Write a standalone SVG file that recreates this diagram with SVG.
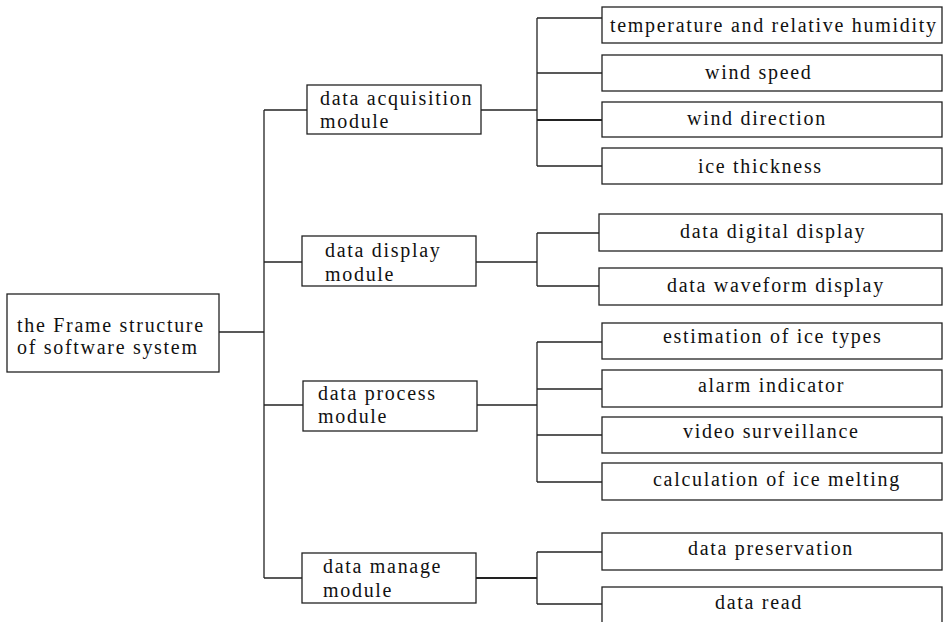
<svg xmlns="http://www.w3.org/2000/svg" width="943" height="622" viewBox="0 0 943 622">
<style>
rect{fill:#fff;stroke:#222;stroke-width:1.3}
text{font-family:"Liberation Serif","Times New Roman",serif;font-size:20px;letter-spacing:1.7px;fill:#111}
#connectors line{stroke:#222;stroke-width:1.3}
</style>
<rect x="0" y="0" width="943" height="622" style="stroke:none"/>
<g id="connectors">
<line x1="219" y1="332" x2="264" y2="332"/>
<line x1="264" y1="110" x2="264" y2="578"/>
<line x1="264" y1="110" x2="307" y2="110"/>
<line x1="264" y1="262" x2="302" y2="262"/>
<line x1="264" y1="405" x2="303" y2="405"/>
<line x1="264" y1="578" x2="302" y2="578"/>
<line x1="481" y1="110" x2="537" y2="110"/>
<line x1="537" y1="18" x2="537" y2="166"/>
<line x1="537" y1="18" x2="602" y2="18"/>
<line x1="537" y1="73" x2="602" y2="73"/>
<line x1="537" y1="120" x2="602" y2="120" style="stroke-width:1.8"/>
<line x1="537" y1="166" x2="602" y2="166"/>
<line x1="476" y1="262" x2="537" y2="262"/>
<line x1="537" y1="233" x2="537" y2="286"/>
<line x1="537" y1="233" x2="599" y2="233"/>
<line x1="537" y1="286" x2="599" y2="286"/>
<line x1="477" y1="405" x2="537" y2="405"/>
<line x1="537" y1="342" x2="537" y2="482"/>
<line x1="537" y1="342" x2="602" y2="342"/>
<line x1="537" y1="389" x2="602" y2="389"/>
<line x1="537" y1="435" x2="602" y2="435"/>
<line x1="537" y1="482" x2="602" y2="482"/>
<line x1="476" y1="578" x2="537" y2="578" style="stroke-width:1.8"/>
<line x1="537" y1="552" x2="537" y2="604"/>
<line x1="537" y1="552" x2="602" y2="552"/>
<line x1="537" y1="604" x2="602" y2="604"/>
</g>
<g id="root"><rect x="7" y="294" width="212" height="78"/><text x="17" y="332">the Frame structure</text><text x="17" y="354">of software system</text></g>
<g id="acq"><rect x="307" y="85" width="174" height="49"/><text x="320" y="105">data acquisition</text><text x="320" y="128">module</text></g>
<g id="disp"><rect x="302" y="236" width="174" height="50"/><text x="325" y="257">data display</text><text x="325" y="281">module</text></g>
<g id="proc"><rect x="303" y="381" width="174" height="50"/><text x="318" y="400">data process</text><text x="318" y="423">module</text></g>
<g id="mgmt"><rect x="302" y="553" width="174" height="50"/><text x="323" y="573">data manage</text><text x="323" y="597">module</text></g>
<g id="temp"><rect x="602" y="7" width="340" height="36"/><text x="610" y="32">temperature and relative humidity</text></g>
<g id="wspeed"><rect x="602" y="55" width="340" height="36"/><text x="705" y="79">wind speed</text></g>
<g id="wdir"><rect x="602" y="102" width="340" height="35"/><text x="687" y="125">wind direction</text></g>
<g id="ice"><rect x="602" y="148" width="340" height="36"/><text x="698" y="173">ice thickness</text></g>
<g id="digital"><rect x="599" y="214" width="343" height="37"/><text x="680" y="238">data digital display</text></g>
<g id="wave"><rect x="599" y="268" width="343" height="37"/><text x="667" y="292">data waveform display</text></g>
<g id="esttype"><rect x="602" y="323" width="340" height="36"/><text x="663" y="343">estimation of ice types</text></g>
<g id="alarm"><rect x="602" y="370" width="340" height="37"/><text x="698" y="392">alarm indicator</text></g>
<g id="video"><rect x="602" y="417" width="340" height="36"/><text x="683" y="438">video surveillance</text></g>
<g id="melt"><rect x="602" y="463" width="340" height="37"/><text x="653" y="486">calculation of ice melting</text></g>
<g id="preserve"><rect x="602" y="533" width="340" height="37"/><text x="688" y="555">data preservation</text></g>
<g id="read"><rect x="602" y="587" width="340" height="40"/><text x="715" y="609">data read</text></g>
</svg>
